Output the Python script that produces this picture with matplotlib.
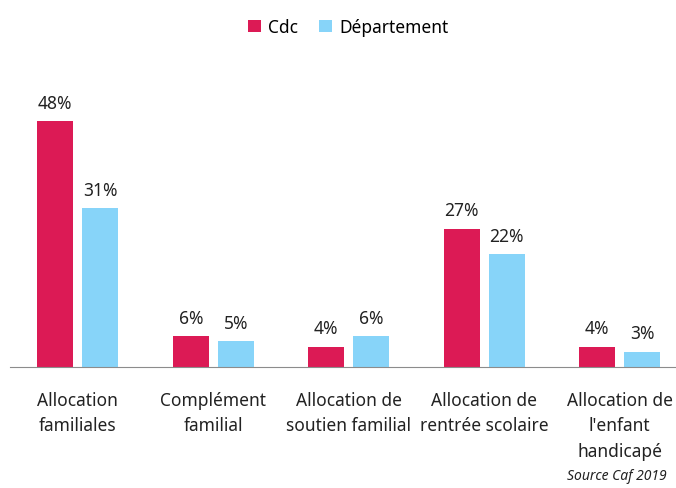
import matplotlib.pyplot as plt
import numpy as np

categories = ["Allocation\nfamiliales", "Complément\nfamilial", "Allocation de\nsoutien familial",
              "Allocation de\nrentrée scolaire", "Allocation de\nl'enfant\nhandicapé"]
cdc = [48, 6, 4, 27, 4]
departement = [31, 5, 6, 22, 3]

red = "#DC1A55"
blue = "#87D4F9"
plt.rcParams['font.family'] = ['Noto Sans', 'DejaVu Sans']

fig = plt.figure(figsize=(6.76, 4.89), dpi=100)
# axes extends slightly past right edge like the original
ax = fig.add_axes([10 / 676, 121 / 489, 677.5 / 676, 307 / 489])

x = np.arange(len(categories))
w = 0.266
off = 0.166
b1 = ax.bar(x - off, cdc, w, color=red, label="Cdc")
b2 = ax.bar(x + off, departement, w, color=blue, label="Département")

for bars, vals in ((b1, cdc), (b2, departement)):
    for b, v in zip(bars, vals):
        ax.text(b.get_x() + b.get_width() / 2, v + 1.9, f"{v}%", ha="center", va="bottom",
                fontsize=12.5, color="#222222")

ax.set_xlim(-0.5, 4.5)
ax.set_ylim(0, 60)
for s in ["top", "right", "left"]:
    ax.spines[s].set_visible(False)
ax.spines["bottom"].set_color("#8c8c8c")
ax.set_yticks([])
ax.set_xticks(x)
ax.set_xticklabels(categories, fontsize=12.5, color="#222222", linespacing=1.55, va="top")
ax.tick_params(axis="x", length=0, pad=17)

fig.legend(loc="upper center", bbox_to_anchor=(0.515, 0.993), ncol=2, frameon=False,
           fontsize=12.5, handlelength=0.75, handleheight=0.75, handletextpad=0.4, columnspacing=1.2)

fig.text(667 / 676, 1 - 477 / 489, "Source Caf 2019", ha="right", va="center",
         fontsize=10, style="italic", color="#222222")

fig.savefig("out.png", dpi=100)
